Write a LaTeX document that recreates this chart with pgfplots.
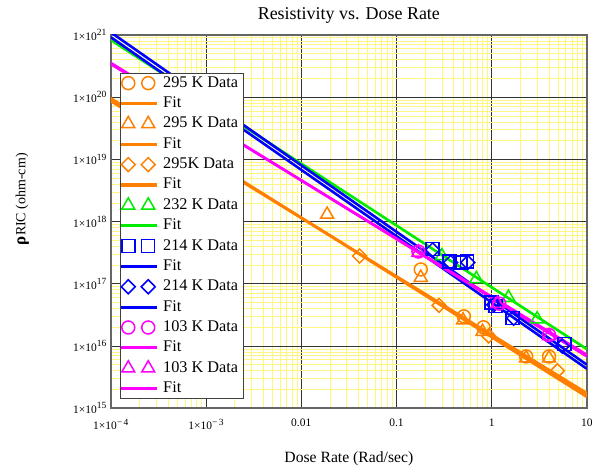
\documentclass[border=0pt]{standalone}
\usepackage{fontspec}
\setmainfont{Liberation Serif}
\usepackage{pgfplots}
\pgfplotsset{compat=1.18}
\definecolor{myorange}{RGB}{255,128,0}
\definecolor{mygreen}{RGB}{0,235,0}
\definecolor{myblue}{RGB}{0,0,255}
\definecolor{mymag}{RGB}{255,0,255}
\definecolor{gridyellow}{RGB}{255,246,130}
\newcommand{\sx}[1]{\raisebox{0.42em}{\fontsize{9.5}{10}\selectfont #1}}
\pgfplotsset{
  twomarks/.style={legend image code/.code={\draw[##1, line width=1.5pt] plot coordinates {(7pt,0pt) (27pt,0pt)};}},
  fitline/.style={line width=2.6pt, legend image code/.code={\fill[##1, draw=none] (0pt,-1.6pt) rectangle (36pt,1.6pt);}},
  datam/.style={only marks, line width=1.5pt, mark options={solid}},
}
\begin{document}
\begin{tikzpicture}
\begin{axis}[
  scale only axis, width=477pt, height=374pt,
  xmode=log, ymode=log,
  xmin=1e-4, xmax=10, ymin=1e15, ymax=1e21,
  xtick={1e-4,1e-3,0.01,0.1,1,10},
  xticklabels={1×10\sx{−\,4},1×10\sx{−\,3},0.01,0.1,1,10},
  ytick={1e15,1e16,1e17,1e18,1e19,1e20,1e21},
  yticklabels={1×10\sx{15},1×10\sx{16},1×10\sx{17},1×10\sx{18},1×10\sx{19},1×10\sx{20},1×10\sx{21}},
  ticklabel style={font=\fontsize{11.5}{13}\selectfont},
  xticklabel style={yshift=-7pt},
  yticklabel style={xshift=-1pt},
  grid=both,
  major grid style={black!80, line width=0.9pt},
  minor grid style={gridyellow, line width=0.7pt},
  axis line style={black!60, line width=1.6pt},
  major tick length=0pt, minor tick length=0pt,
  title={Resistivity vs. Dose Rate},
  title style={font=\fontsize{18}{20}\selectfont, at={(axis description cs:0.5,1)}, anchor=center, yshift=13pt},
  xlabel={Dose Rate (Rad/sec)},
  xlabel style={font=\fontsize{15.7}{17}\selectfont, at={(axis description cs:0.5,0)}, anchor=center, yshift=-51pt},
  ylabel={{\fontsize{17}{17}\selectfont\bfseries ρ}RIC (ohm-cm)},
  ylabel style={font=\fontsize{14}{16}\selectfont, at={(axis description cs:-0.186,0.56)}, anchor=center},
  legend cell align=left,
  legend style={at={(axis description cs:0.019,0.898)}, anchor=north west,
    draw=black!75, line width=0.9pt, fill=white,
    font=\fontsize{16.3}{18}\selectfont, row sep=3pt, column sep=2pt, inner sep=1pt,
    nodes={inner xsep=4pt, inner ysep=1.2pt, text height=11.5pt, text depth=3.5pt}},
]
% 295 K circles
\addplot[datam, myorange, mark=o, mark size=6.5pt, twomarks] coordinates {
 (0.18,1.7e17) (0.51,3.0e16) (0.82,2.0e16) (2.3,6.8e15) (4.0,6.8e15)};
\addlegendentry{295 K Data}
\addplot[fitline, myorange] coordinates {(1e-4,9.1e19) (10,1.66e15)};
\addlegendentry{Fit}
% 295 K triangles
\addplot[datam, myorange, mark=triangle, mark size=7.5pt, twomarks] coordinates {
 (0.0187,1.3e18) (0.18,1.26e17) (0.50,2.6e16) (0.80,1.7e16) (2.3,6.4e15) (4.0,6.4e15)};
\addlegendentry{295 K Data}
\addplot[fitline, myorange] coordinates {(1e-4,9.6e19) (10,1.52e15)};
\addlegendentry{Fit}
% 295K diamonds
\addplot[datam, myorange, mark=diamond, mark size=7pt, mark options={xscale=1.33}, twomarks] coordinates {
 (0.041,2.8e17) (0.28,4.5e16) (0.93,1.45e16) (4.9,4.0e15)};
\addlegendentry{295K Data}
\addplot[fitline, myorange] coordinates {(1e-4,8.6e19) (10,1.75e15)};
\addlegendentry{Fit}
% 232 K triangles
\addplot[datam, mygreen, mark=triangle, mark size=7.5pt, twomarks] coordinates {
 (0.30,2.8e17) (0.69,1.2e17) (1.5,6e16) (3.0,2.7e16)};
\addlegendentry{232 K Data}
\addplot[fitline, mygreen] coordinates {(1e-4,8.3e20) (10,8.9e15)};
\addlegendentry{Fit}
% 214 K squares
\addplot[datam, myblue, mark=square, mark size=6.5pt, twomarks] coordinates {
 (0.24,3.6e17) (0.36,2.3e17) (0.47,2.2e17) (0.55,2.3e17) (1.0,5e16) (1.1,4.4e16) (1.65,2.8e16) (5.8,1.07e16)};
\addlegendentry{214 K Data}
\addplot[fitline, myblue] coordinates {(1e-4,1.1e21) (10,5.0e15)};
\addlegendentry{Fit}
% 214 K diamonds
\addplot[datam, myblue, mark=diamond, mark size=7pt, mark options={xscale=1.33}, twomarks] coordinates {
 (0.24,3.5e17) (0.37,2.2e17) (0.56,2.2e17) (1.05,4.6e16) (1.7,2.8e16) (5.5,1.0e16)};
\addlegendentry{214 K Data}
\addplot[fitline, myblue] coordinates {(1e-4,9.2e20) (10,4.3e15)};
\addlegendentry{Fit}
% 103 K circles
\addplot[datam, mymag, mark=o, mark size=6.5pt, twomarks] coordinates {
 (0.17,3.3e17) (1.2,4.8e16) (4.0,1.5e16)};
\addlegendentry{103 K Data}
\addplot[fitline, mymag] coordinates {(1e-4,3.55e20) (10,6.8e15)};
\addlegendentry{Fit}
% 103 K triangles
\addplot[datam, mymag, mark=triangle, mark size=7.5pt, twomarks] coordinates {
 (0.17,3.2e17) (1.15,4.8e16) (4.0,1.45e16)};
\addlegendentry{103 K Data}
\addplot[fitline, mymag] coordinates {(1e-4,3.4e20) (10,7.2e15)};
\addlegendentry{Fit}
\end{axis}
\path[use as bounding box] (-111pt,-62pt) rectangle (485pt,409pt);
\end{tikzpicture}
\end{document}
